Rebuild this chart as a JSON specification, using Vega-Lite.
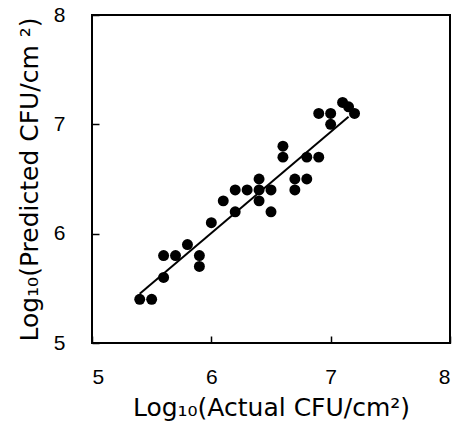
{
  "$schema": "https://vega.github.io/schema/vega-lite/v6.json",
  "width": 358,
  "height": 328,
  "autosize": "none",
  "padding": {"left": 92, "top": 15, "right": 8, "bottom": 92},
  "background": "white",
  "config": {
    "view": {"stroke": "black", "strokeWidth": 2},
    "font": "Liberation Sans",
    "axis": {
      "grid": false,
      "domain": false,
      "ticks": true,
      "tickColor": "black",
      "tickWidth": 1.5,
      "tickSize": -7,
      "labelColor": "black",
      "titleColor": "black",
      "labelFont": "Liberation Sans",
      "titleFont": "DejaVu Sans",
      "labelFontSize": 21,
      "titleFontSize": 25,
      "titleFontWeight": "normal"
    }
  },
  "datasets": {
    "points": [
      {"actual": 5.4, "predicted": 5.4},
      {"actual": 5.5, "predicted": 5.4},
      {"actual": 5.6, "predicted": 5.6},
      {"actual": 5.6, "predicted": 5.8},
      {"actual": 5.7, "predicted": 5.8},
      {"actual": 5.8, "predicted": 5.9},
      {"actual": 5.9, "predicted": 5.8},
      {"actual": 5.9, "predicted": 5.7},
      {"actual": 6.0, "predicted": 6.1},
      {"actual": 6.1, "predicted": 6.3},
      {"actual": 6.2, "predicted": 6.2},
      {"actual": 6.2, "predicted": 6.4},
      {"actual": 6.3, "predicted": 6.4},
      {"actual": 6.4, "predicted": 6.5},
      {"actual": 6.4, "predicted": 6.4},
      {"actual": 6.4, "predicted": 6.3},
      {"actual": 6.5, "predicted": 6.4},
      {"actual": 6.5, "predicted": 6.2},
      {"actual": 6.6, "predicted": 6.8},
      {"actual": 6.6, "predicted": 6.7},
      {"actual": 6.7, "predicted": 6.4},
      {"actual": 6.7, "predicted": 6.5},
      {"actual": 6.8, "predicted": 6.5},
      {"actual": 6.8, "predicted": 6.7},
      {"actual": 6.9, "predicted": 6.7},
      {"actual": 6.9, "predicted": 7.1},
      {"actual": 7.0, "predicted": 7.1},
      {"actual": 7.0, "predicted": 7.0},
      {"actual": 7.1, "predicted": 7.2},
      {"actual": 7.15, "predicted": 7.16},
      {"actual": 7.2, "predicted": 7.1}
    ],
    "fit": [
      {"actual": 5.4, "predicted": 5.45},
      {"actual": 7.15, "predicted": 7.07}
    ]
  },
  "encoding": {
    "x": {
      "field": "actual",
      "type": "quantitative",
      "scale": {"domain": [5, 8], "nice": false, "zero": false},
      "axis": {"values": [5, 6, 7, 8], "format": "d", "labelPadding": 30, "title": "Log₁₀(Actual CFU/cm²)", "titlePadding": 8}
    },
    "y": {
      "field": "predicted",
      "type": "quantitative",
      "scale": {"domain": [5, 8], "nice": false, "zero": false},
      "axis": {"values": [5, 6, 7, 8], "format": "d", "labelPadding": 34, "title": "Log₁₀(Predicted CFU/cm ²)", "titlePadding": 11}
    }
  },
  "layer": [
    {
      "data": {"name": "fit"},
      "mark": {"type": "line", "color": "black", "strokeWidth": 2}
    },
    {
      "data": {"name": "points"},
      "mark": {"type": "circle", "color": "black", "opacity": 1, "size": 120}
    }
  ]
}
